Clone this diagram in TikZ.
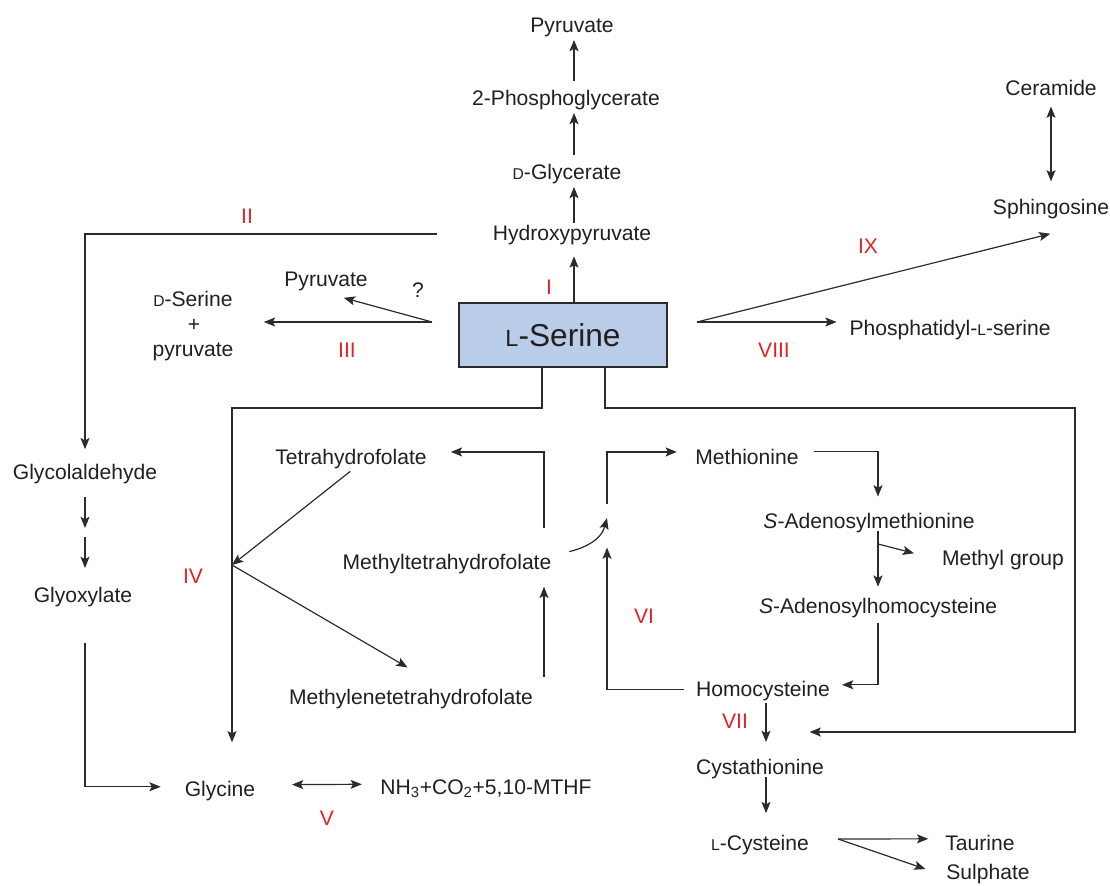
\documentclass[tikz,border=0pt]{standalone}
\usepackage{graphicx}
\usepackage{fontspec}
\setmainfont{Liberation Sans}
\usetikzlibrary{arrows.meta,positioning}
\definecolor{ink}{HTML}{231F20}
\definecolor{wire}{HTML}{2B2B2B}
\definecolor{stepred}{HTML}{E42127}
\definecolor{serblue}{HTML}{B9CDE8}
\newcommand{\smc}[1]{\scalebox{0.74}{#1}}

\begin{document}
\begin{tikzpicture}[x=0.025cm,y=-0.025cm,
    met/.style={inner sep=0pt,text height=11pt,text depth=3pt,text=ink,yshift=-1.4pt,font=\fontsize{15}{18}\selectfont},
    enz/.style={inner sep=0pt,text=stepred,font=\fontsize{15}{18}\selectfont},
    tip/.tip={Stealth[length=8pt,width=6.4pt,inset=1.7pt]},
    arr/.style={-tip,wire,line width=0.85pt,shorten >=2pt},
    darr/.style={tip-tip,wire,line width=0.85pt}]
  \useasboundingbox (0,0) rectangle (1110,886);

  % L-serine and the way up to pyruvate
  \node[draw=wire,line width=0.9pt,fill=serblue,minimum width=5.2cm,minimum height=1.6cm,inner sep=0pt,
        text=ink,font=\fontsize{22.5}{26}\selectfont] (ser) at (563,335) {\smc{L}-Serine};
  \node[met] (hp) at (572,233) {Hydroxypyruvate};
  \node[met] (dgly) at (567,172) {\smc{D}-Glycerate};
  \node[met] (pg) at (566,98) {2-Phosphoglycerate};
  \node[met] (pyrI) at (572,25) {Pyruvate};
  \node[enz] (eI) at (549,287) {I};
  \coordinate (colI) at (574,0);
  \draw[arr,shorten >=8pt] (ser.north -| colI) -- (hp.south -| colI);
  \draw[arr,shorten <=1.4pt] (hp.north -| colI) -- (dgly.south -| colI);
  \draw[arr,shorten <=6.6pt] (dgly.north -| colI) -- (pg.south -| colI);
  \draw[arr,shorten <=6.6pt] (pg.north -| colI) -- (pyrI.south -| colI);

  % II: glycolaldehyde, glyoxylate
  \node[met] (glyc) at (85,472) {Glycolaldehyde};
  \node[met] (glox) at (83,595) {Glyoxylate};
  \node[met] (gly) at (220,789) {Glycine};
  \node[enz] (eII) at (247,216) {II};
  \coordinate (IIs) at (437,234);
  \coordinate (gmid) at (85,533);
  \draw[arr,shorten >=10.4pt] (IIs) -| (glyc.north);
  \draw[arr,shorten <=9pt,shorten >=3.5pt] (glyc.south) -- (gmid);
  \draw[arr,shorten <=3pt,shorten >=13.4pt] (gmid) -- (glox.north -| gmid);
  \draw[arr,shorten <=25.6pt,shorten >=17pt] (glox.south -| gmid) |- ([yshift=3pt]gly.west);

  % III: D-serine
  \node[met] (dser) at (193,299) {\smc{D}-Serine};
  \node[met] (plus) at (194,324) {+};
  \node[met] (pyrlow) at (193,349) {pyruvate};
  \node[met] (pyrIII) at (326,279) {Pyruvate};
  \node[met] (qm) at (418,290) {?};
  \node[enz] (eIII) at (347,350) {III};
  \coordinate (IIIs) at (432,322);
  \draw[arr,shorten >=22pt] (IIIs) -- (dser.east |- IIIs);
  \draw[arr] (IIIs) -- ([shift={(15,6)}]pyrIII.south);

  % VIII and IX: lipids
  \node[met] (pser) at (950,328) {Phosphatidyl-\smc{L}-serine};
  \node[met] (sph) at (1051,207) {Sphingosine};
  \node[met] (cer) at (1051,88) {Ceramide};
  \node[enz] (eVIII) at (774,350) {VIII};
  \node[enz] (eIX) at (868,246) {IX};
  \coordinate (VIIIs) at (697,322);
  \draw[arr,shorten >=9pt] (VIIIs) -- (pser.west |- VIIIs);
  \draw[arr] (VIIIs) -- ([shift={(2,14)}]sph.south);
  \draw[darr,shorten <=4.6pt,shorten >=12.4pt] (cer.south) -- (sph.north);

  % IV: glycine and the folate cycle
  \node[met] (thf) at (351,457) {Tetrahydrofolate};
  \node[met] (mthf) at (447,562) {Methyltetrahydrofolate};
  \node[met] (mlthf) at (411,697) {Methylenetetrahydrofolate};
  \node[enz] (eIV) at (193,576) {IV};
  \coordinate (jL) at (542,408);
  \coordinate (jIV) at (232,565);
  \coordinate (colF) at (544,0);
  \draw[arr,shorten >=27.4pt] (ser.south -| jL) -- (jL) -| (gly.north -| jIV);
  \draw[arr,shorten <=2.6pt,shorten >=0pt] ([xshift=1.5pt]thf.south) -- (jIV);
  \draw[arr] (jIV) -- ([shift={(-1,-20)}]mlthf.north);
  \draw[arr,shorten <=8.4pt,shorten >=9pt] (mlthf.north -| colF) -- (mthf.south -| colF);
  \draw[arr,shorten <=18.4pt,shorten >=17pt] (mthf.north -| colF) |- ([yshift=5pt]thf.east);

  % VI: methionine cycle
  \node[met] (met) at (747,457) {Methionine};
  \node[met] (sam) at (869,521) {\textit{S}-Adenosylmethionine};
  \node[met] (methyl) at (1003,558) {Methyl group};
  \node[met] (sah) at (878,606) {\textit{S}-Adenosylhomocysteine};
  \node[met] (hcy) at (763,689) {Homocysteine};
  \node[enz] (eVI) at (644,616) {VI};
  \coordinate (jMet) at (607,518);
  \coordinate (colS) at (878,0);
  \coordinate (jCH) at (878,544);
  \draw[arr,shorten <=13pt,shorten >=0pt] ([yshift=5.4pt]mthf.east) to[out=15,in=-105] (jMet);
  \draw[arr,shorten <=10pt,shorten >=13pt] (jMet) |- ([yshift=5pt]met.west);
  \draw[arr,shorten <=8.5pt,shorten >=21pt] ([yshift=1pt]hcy.west) -| (jMet);
  \draw[arr,shorten <=11pt,shorten >=11.6pt] ([yshift=5.4pt]met.east) -| (sam.north -| colS);
  \draw[arr,shorten <=-1.4pt,shorten >=7.9pt] (sam.south -| colS) -- (sah.north -| colS);
  \draw[arr] (jCH) -- ([shift={(-25,-6)}]methyl.west);
  \draw[arr,shorten <=3.6pt,shorten >=8.5pt] (sah.south -| colS) |- ([yshift=4.4pt]hcy.east);

  % VII: transsulphuration
  \node[met] (cysta) at (760,767) {Cystathionine};
  \node[met] (cys) at (760,843) {\smc{L}-Cysteine};
  \node[met] (tau) at (980,843) {Taurine};
  \node[met] (sul) at (988,872) {Sulphate};
  \node[enz] (eVII) at (735,721) {VII};
  \coordinate (colC) at (766,0);
  \coordinate (jR) at (605,408);
  \coordinate (jVII) at (766,732);
  \coordinate (jCys) at (838,839);
  \draw[arr,shorten <=1.6pt,shorten >=12pt] (hcy.south -| colC) -- (cysta.north -| colC);
  \draw[arr,shorten <=-1.4pt,shorten >=15.4pt] (cysta.south -| colC) -- (cys.north -| colC);
  \draw[arr,shorten >=31pt] (ser.south -| jR) -- (jR) -- ++(470,0) |- (jVII);
  \draw[arr,shorten >=12pt] (jCys) -- ([yshift=4.4pt]tau.west);
  \draw[arr] (jCys) -- ([shift={(-18,-4)}]sul.west);

  % V: glycine cleavage
  \node[met] (nh3) at (486,787) {NH\textsubscript{3}+CO\textsubscript{2}+5,10-MTHF};
  \node[enz] (eV) at (327,818) {V};
  \draw[darr,shorten <=26pt,shorten >=13pt] ([yshift=4.4pt]gly.east) -- ([yshift=3.4pt]nh3.west);
\end{tikzpicture}
\end{document}
